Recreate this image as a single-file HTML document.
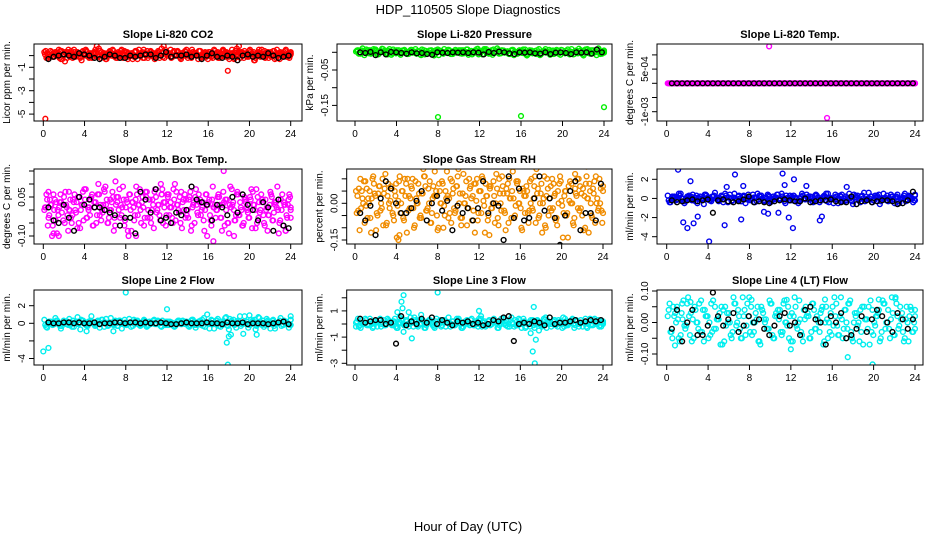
<!DOCTYPE html>
<html><head><meta charset="utf-8"><style>
html,body{margin:0;padding:0;background:#fff;}
svg{display:block;font-family:"Liberation Sans",sans-serif;}
</style></head><body>
<svg id="chart" width="936" height="540" viewBox="0 0 936 540" xmlns="http://www.w3.org/2000/svg">
<rect width="936" height="540" fill="#fff"/>
<text x="468" y="14" text-anchor="middle" font-size="13">HDP_110505  Slope Diagnostics</text>
<text x="468" y="531" text-anchor="middle" font-size="13">Hour of Day (UTC)</text>
</svg>
<script>
const xTicks = [0,4,8,12,16,20,24];

const co2Vals = [0.3,-0.2,0.1,0.4,-0.1,0.2,0.0,0.5,-0.3,0.1,0.3,-0.2,0.2,0.4,0.0,-0.1,0.3,0.1,-0.4,0.2,0.5,0.0,0.1,-0.2,0.3,0.2,-0.1,0.4,0.0,0.2,-0.3,0.1,0.3,0.5,-0.1,0.0,0.2,0.4,-0.2,0.1,0.3,-0.1,0.2,0.0,0.4,-0.3,0.1,0.2,0.5,0.0,-0.2,0.3,0.1,0.2,-0.1,0.4,0.0,0.3,-0.2,0.1,0.2,0.5,-0.1,0.0,0.3,0.1,-0.3,0.2,0.4,0.0,0.1,-0.2,0.3,0.2,0.0,0.4,-0.1,0.2,0.1,-0.3,0.3,0.0,0.5,0.1,-0.2,0.2,0.4,0.0,0.3,-0.1,0.1,0.2,-0.2,0.6,0.8,0.3,0.0,0.2,-0.1,0.4,0.1,0.3,-0.2,0.2,0.0,0.5,0.1,-0.1,0.3,0.2,0.0,0.4,-0.2,0.1,0.3,0.2,0.0,-0.1,0.2,0.1];
const co2OutT = [0.2,17.9,2.1];
const co2OutV = [-5.4,-1.3,-0.5];
const co2Black = [-0.3,-0.1,0.0,0.1,0.0,-0.1,0.2,0.1,0.0,-0.2,-0.3,-0.1,0.1,0.0,-0.2,-0.2,0.0,-0.1,0.0,0.1,0.1,-0.2,0.0,0.3,-0.1,0.0,0.0,0.1,-0.1,0.0,-0.3,0.0,0.2,-0.1,-0.2,0.0,-0.1,-0.4,0.0,0.1,-0.1,0.0,-0.1,0.2,0.0,-0.2,-0.1,0.0];

const presVals = [0.002,-0.004,0.005,-0.008,0.0,0.006,-0.002,0.008,-0.006,0.003,0.0,-0.005,0.009,-0.003,0.004,0.0,-0.007,0.005,0.002,-0.004,0.007,-0.001,0.003,-0.006,0.0,0.004,-0.003,0.006,-0.009,0.002,0.005,-0.002,0.0,0.007,-0.005,0.003,-0.001,0.006,-0.004,0.002,0.008,-0.003,0.0,0.005,-0.006,0.003,0.009,-0.002,0.004,-0.007,0.001,0.006,-0.003,0.005,0.0,-0.005,0.007,0.002,-0.004,0.003,0.008,-0.006,0.0,0.005,-0.002,0.006,-0.008,0.003,0.009,-0.001,0.004,-0.005,0.007,0.0,0.006,-0.003,0.008,0.002,-0.006,0.005,0.010,-0.002,0.004,0.009,-0.004,0.006,0.0,0.011,-0.003,0.005];
const presOutT = [8.0,16.0,24.0];
const presOutV = [-0.183,-0.180,-0.155];
const presBlack = [0.0,-0.002,0.001,-0.008,0.0,-0.006,0.001,0.0,-0.002,-0.004,0.0,-0.003,-0.002,-0.005,-0.007,0.0,-0.001,-0.002,0.0,-0.001,0.0,-0.002,0.0,-0.001,-0.006,0.001,-0.002,0.002,0.0,-0.003,-0.005,0.0,-0.001,0.0,-0.003,-0.004,0.0,-0.005,-0.001,0.0,-0.002,-0.005,0.0,-0.001,0.0,-0.004,0.008,0.0];

const tempVals = [0,0,0,0,0,0,0,0,0,0,0,0,0,0,0,0,0,0,0,0,0,0,0,0,0,0,0,0,0,0,0,0,0,0,0,0,0,0,0,0,0,0,0,0,0,0,0,0,0,0,0,0,0,0,0,0,0,0,0,0,0,0,0,0,0,0,0,0,0,0,0,0,0,0,0,0,0,0,0,0,0,0,0,0,0,0,0,0,0,0];
const tempOutT = [9.9,15.5];
const tempOutV = [0.0013,-0.00122];
const tempBlack = [0,0,0,0,0,0,0,0,0,0,0,0,0,0,0,0,0,0,0,0,0,0,0,0,0,0,0,0,0,0,0,0,0,0,0,0,0,0,0,0,0,0,0,0,0,0,0,0];

const boxVals = [0.0,0.06,-0.03,0.02,-0.06,0.04,-0.09,0.01,0.03,-0.04,0.07,-0.02,0.0,-0.05,0.03,-0.01,0.05,-0.07,0.02,0.08,-0.03,0.0,0.04,-0.06,0.01,-0.02,0.06,-0.04,0.02,0.09,-0.05,0.0,0.03,-0.08,0.02,0.05,-0.03,0.01,-0.06,0.04,-0.1,0.0,0.03,-0.02,0.06,0.02,-0.05,0.01,0.07,-0.03,0.04,0.0,-0.07,0.05,0.02,-0.04,0.08,0.01,-0.02,0.06,0.03,-0.05,0.1,0.02,-0.01,0.07,0.04,-0.03,0.0,0.05,-0.06,0.03,0.08,-0.02,0.04,0.01,-0.08,0.06,0.03,-0.04,0.09,0.02,0.0,0.05,-0.03,0.07,0.04,-0.05,0.02,0.08,0.0,-0.02,0.06,0.03,-0.06,0.05,0.01,-0.03,0.04,0.07,0.0,-0.05,0.03,0.06,-0.02,0.04,-0.08,0.02,0.05,-0.01,0.03,0.0,-0.04,0.06,0.02,-0.02,0.04,0.01];
const boxOutT = [0.5,1.0,1.5,17.5,16.5,18.5,7.0,11.5,2.5,9.0,23.5];
const boxOutV = [0.07,-0.09,-0.1,0.15,-0.12,-0.1,0.11,0.06,0.0,-0.1,-0.08];
const boxBlack = [0.01,-0.04,-0.05,0.02,-0.03,-0.08,0.05,0.02,0.04,0.01,0.01,0.0,-0.01,-0.02,-0.06,-0.03,-0.03,-0.09,0.07,0.04,-0.01,0.08,-0.04,-0.03,-0.05,-0.01,-0.02,0.0,0.09,0.04,0.03,0.02,-0.04,0.02,0.01,-0.02,0.05,-0.01,0.06,0.02,0.0,-0.04,0.03,0.01,-0.08,0.04,-0.06,-0.07];

const rhVals = [0.05,-0.03,0.1,0.02,-0.08,0.06,0.0,-0.12,0.11,0.03,-0.05,0.07,-0.02,0.04,-0.09,0.08,0.01,-0.04,0.05,-0.14,0.09,0.0,-0.06,0.03,0.1,-0.02,0.06,-0.1,0.02,0.08,-0.05,0.04,0.11,-0.03,0.0,-0.08,0.07,0.03,-0.11,0.05,0.09,-0.01,0.02,-0.06,0.1,0.04,-0.04,0.07,0.0,-0.09,0.12,0.03,-0.02,0.06,-0.07,0.08,0.01,-0.04,0.05,0.1,-0.12,0.03,0.07,-0.02,0.09,0.0,-0.06,0.04,0.11,-0.03,0.06,-0.08,0.02,0.13,-0.05,0.08,0.0,-0.1,0.05,0.03,-0.04,0.09,-0.02,0.07,0.14,-0.06,0.04,0.0,-0.09,0.1,0.02,-0.03,0.08,-0.07,0.05,0.11,-0.01,0.03,-0.05,0.07,0.0,-0.08,0.06,0.1,-0.03,0.04,-0.11,0.08,0.02,0.05,-0.06,0.09,0.0,-0.02,0.06,-0.04];
const rhOutT = [4.2,4.3,13.0,22.4,18.0,21.3];
const rhOutV = [-0.15,-0.13,-0.13,0.15,0.16,0.12];
const rhBlack = [-0.04,-0.07,-0.01,-0.13,0.02,0.09,0.06,0.0,-0.04,-0.04,-0.02,0.01,0.05,-0.07,0.0,0.03,-0.03,0.01,-0.11,-0.01,-0.04,-0.02,-0.07,-0.02,0.09,-0.04,0.0,-0.01,-0.15,0.11,-0.06,0.06,-0.07,-0.06,0.02,0.11,-0.03,0.02,-0.06,-0.17,-0.05,0.05,0.09,-0.11,-0.04,-0.04,-0.07,0.08];

const flowVals = [0.3,-0.4,0.1,-0.2,0.5,0.0,-0.5,0.2,-0.1,0.4,-0.3,0.1,0.0,-0.6,0.3,-0.2,0.2,0.6,-0.1,0.0,-0.4,0.3,0.1,-0.3,0.5,-0.2,0.0,0.2,-0.5,0.4,-0.1,0.1,-0.3,0.3,0.0,-0.2,0.4,-0.4,0.2,0.1,-0.1,0.5,-0.3,0.0,0.3,-0.2,0.1,-0.5,0.2,0.0,0.4,-0.1,-0.3,0.3,0.1,-0.2,0.2,0.5,-0.4,0.0,0.1,-0.1,0.3,-0.3,0.2,0.0,-0.2,0.4,0.1,-0.1,0.3,-0.3,0.0,0.2,-0.2,0.1,0.4,-0.1,0.0,0.3,-0.2,0.2,0.1,-0.3,0.0,0.3,-0.1,0.2,0.0,-0.2];
const flowOutT = [1.1,2.3,1.6,2.0,3.0,5.6,6.6,4.1,7.4,9.4,9.8,11.2,11.4,11.8,12.2,12.3,13.5,14.8,15.0,17.4,5.8,10.8,7.2,2.6];
const flowOutV = [3.0,1.8,-2.5,-3.1,-1.9,-2.8,2.5,-4.5,1.3,-1.4,-1.6,2.6,1.4,-2.0,-3.1,2.0,1.3,-2.3,-1.9,1.2,1.2,-1.5,-2.2,-2.6];
const flowBlack = [-0.2,-0.4,-0.3,-0.2,-0.1,-0.3,-0.2,-0.1,-1.5,-0.2,-0.1,-0.3,-0.4,-0.3,-0.1,0.2,-0.4,-0.3,-0.4,-0.5,-0.3,-0.2,-0.1,-0.2,-0.3,-0.3,0.0,-0.4,-0.3,-0.2,-0.2,-0.1,-0.3,-0.4,-0.4,0.2,-0.6,-0.3,-0.2,-0.4,-0.3,-0.2,-0.2,-0.3,-0.6,-0.5,-0.2,0.7];

const l2Vals = [0.4,-0.5,0.2,-0.2,0.6,0.0,-0.6,0.3,-0.1,0.5,-0.4,0.1,0.7,-0.7,0.3,-0.2,0.2,0.8,-0.1,0.0,-0.5,0.4,0.1,-0.3,0.6,-0.2,0.0,0.3,-0.6,0.4,-0.1,0.1,-0.3,0.3,0.0,-0.2,0.4,-0.4,0.2,0.1,-0.1,0.3,-0.3,0.0,0.2,-0.2,0.1,-0.4,0.2,0.0,0.3,-0.1,-0.3,0.3,0.1,-0.2,0.2,0.4,-0.4,0.0,0.1,-0.1,0.3,-0.3,0.2,0.0,-0.2,0.5,0.1,-0.1,0.3,-0.3,0.0,0.2,-0.2,0.1,0.4,-0.1,0.0,0.3,-0.2,0.2,0.1,-0.3,0.0,0.3,-0.1,0.2,0.0,-0.2];
const l2OutT = [0.0,0.5,8.0,12.0,17.8,18.0,18.2,17.9,19.4,20.7,20.0,15.9,24.0,4.2,6.8];
const l2OutV = [-3.2,-2.8,3.5,1.6,-2.2,-1.5,-1.3,-4.7,-1.2,-1.3,0.9,1.0,0.8,-0.9,-0.9];
const l2Black = [0.1,0.0,0.0,0.1,0.1,0.0,0.1,0.0,0.0,0.1,-0.1,0.0,0.0,0.1,0.1,0.0,0.1,0.1,0.0,0.1,0.0,0.0,0.1,0.0,-0.1,-0.1,0.0,0.1,0.0,0.0,0.0,0.1,0.0,0.0,-0.1,0.1,0.0,0.0,0.1,-0.1,0.0,0.0,0.0,-0.1,0.0,0.1,0.2,-0.1];

const l3Vals = [0.1,-0.2,0.3,0.0,-0.1,0.4,-0.3,0.2,0.1,-0.2,0.3,0.0,0.2,-0.1,0.4,-0.3,0.1,0.0,0.3,-0.2,0.2,0.5,-0.1,0.0,0.3,-0.3,0.2,0.1,-0.2,0.4,0.0,-0.1,0.3,0.1,-0.2,0.2,0.0,0.4,-0.3,0.1,0.3,-0.1,0.0,0.2,-0.2,0.4,0.1,-0.1,0.3,0.0,0.2,-0.3,0.1,0.4,-0.1,0.0,0.5,-0.2,0.2,0.3,0.0,-0.3,0.1,0.3,-0.1,0.2,0.0,-0.2,0.3,0.1,0.0,0.2,-0.1,0.3,0.0,-0.2,0.2,0.1,0.4,-0.1,0.0,0.3,0.1,-0.2,0.2,0.0,0.4,0.1,-0.1,0.2];
const l3OutT = [4.5,4.7,4.1,5.2,5.5,4.7,8.0,4.6,4.3,17.3,17.2,17.4,17.5,17.0,17.8,12.0,12.2,6.4,0.1];
const l3OutV = [1.7,2.2,0.9,0.9,-1.1,-0.6,2.4,1.2,0.5,1.3,-2.1,-3.0,-1.2,-0.7,-0.5,1.0,0.6,0.7,-0.2];
const l3Black = [0.4,0.1,0.2,0.3,0.3,0.0,0.1,-1.5,0.6,-0.1,0.2,0.0,0.4,0.1,0.5,0.0,0.3,0.1,-0.1,0.2,0.1,0.2,0.0,0.1,-0.1,0.0,0.3,0.2,0.5,0.6,-1.3,0.0,0.1,0.0,0.2,0.1,-0.1,0.5,0.0,0.1,0.1,0.2,0.3,0.1,0.2,0.3,0.2,0.3];

const l4Vals = [0.02,-0.03,0.05,0.0,-0.05,0.03,-0.01,0.06,-0.04,0.01,0.04,-0.02,0.07,-0.06,0.02,0.0,-0.03,0.05,0.01,-0.07,0.04,-0.01,0.03,-0.05,0.06,0.0,-0.02,0.08,-0.04,0.02,0.05,-0.03,0.01,-0.06,0.04,0.0,-0.02,0.06,-0.05,0.03,0.01,-0.04,0.07,-0.01,0.02,-0.06,0.05,0.0,-0.03,0.04,0.02,-0.05,0.06,-0.02,0.01,0.03,-0.07,0.05,0.0,-0.04,0.08,-0.01,0.02,-0.05,0.04,0.06,-0.03,0.0,0.03,-0.06,0.05,0.01,-0.02,0.07,-0.04,0.02,0.04,-0.03,0.06,0.0,-0.05,0.03,0.08,-0.02,0.01,-0.06,0.05,0.02,-0.03,0.04];
const l4OutT = [17.5,19.9,12.0,0.8,8.2,11.6,15.3,22.1,20.5,1.5,2.3];
const l4OutV = [-0.11,-0.133,-0.085,-0.073,0.072,0.072,0.073,0.075,0.073,0.06,0.065];
const l4Black = [-0.02,0.04,-0.06,0.0,0.04,-0.04,-0.04,-0.01,0.095,0.02,-0.01,0.01,0.03,-0.03,-0.01,0.02,0.0,0.01,-0.02,-0.04,-0.01,0.02,0.03,-0.01,0.0,-0.04,0.04,0.05,0.01,0.0,-0.07,0.02,0.0,0.03,-0.05,-0.04,-0.02,0.02,-0.03,0.01,0.04,0.02,0.0,-0.03,0.03,0.01,-0.02,0.01];

const panels = [
 {name:'co2',title:'Slope Li-820 CO2',ylab:'Licor ppm per min.',color:'#ff0000',box:[34,302,44,121],xp:[43.3,290.7],ya:[-1,67.3],yb:[-5,114.1],ticks:[0,-1,-2,-3,-4,-5],labels:['-1','-3','-5'],labelVals:[-1,-3,-5],vals:co2Vals,outT:co2OutT,outV:co2OutV,black:co2Black},
 {name:'pressure',title:'Slope Li-820 Pressure',ylab:'kPa per min.',color:'#00ee00',box:[337,612,44,121],xp:[355,604],ya:[0,52.3],yb:[-0.15,105.4],ticks:[0,-0.05,-0.10,-0.15],labels:['-0.05','-0.15'],labelVals:[-0.05,-0.15],vals:presVals,outT:presOutT,outV:presOutV,black:presBlack},
 {name:'temp',title:'Slope Li-820 Temp.',ylab:'degrees C per min.',color:'#ff00ff',box:[657,923,44,121],xp:[666.7,915],ya:[0,83.3],yb:[-0.001,111.7],ticks:[0.001,0.0005,0,-0.0005,-0.001],labels:['5e-04','-1e-03'],labelVals:[0.0005,-0.001],vals:tempVals,outT:tempOutT,outV:tempOutV,black:tempBlack},
 {name:'amb-box-temp',title:'Slope Amb. Box Temp.',ylab:'degrees C per min.',color:'#ff00ff',box:[34,302,169,244],xp:[43.3,290.7],ya:[0,210],yb:[-0.10,236],ticks:[0.15,0.10,0.05,0,-0.05,-0.10],labels:['0.05','-0.10'],labelVals:[0.05,-0.10],vals:boxVals,outT:boxOutT,outV:boxOutV,black:boxBlack},
 {name:'gas-stream-rh',title:'Slope Gas Stream RH',ylab:'percent per min.',color:'#f08c00',box:[346.7,612,169,244],xp:[355,603],ya:[0,203.3],yb:[-0.15,240],ticks:[0.10,0.05,0,-0.05,-0.10,-0.15],labels:['0.00','-0.15'],labelVals:[0,-0.15],vals:rhVals,outT:rhOutT,outV:rhOutV,black:rhBlack},
 {name:'sample-flow',title:'Slope Sample Flow',ylab:'ml/min per min.',color:'#0000ee',box:[657,923,169,244],xp:[666.7,915],ya:[2,179.3],yb:[-4,236.7],ticks:[2,0,-2,-4],labels:['2','0','-2','-4'],labelVals:[2,0,-2,-4],vals:flowVals,outT:flowOutT,outV:flowOutV,black:flowBlack},
 {name:'line2-flow',title:'Slope Line 2 Flow',ylab:'ml/min per min.',color:'#00eeee',box:[34,302,290,365],xp:[43.3,290.7],ya:[2,305.7],yb:[-4,358.5],ticks:[2,0,-2,-4],labels:['2','0','-4'],labelVals:[2,0,-4],vals:l2Vals,outT:l2OutT,outV:l2OutV,black:l2Black},
 {name:'line3-flow',title:'Slope Line 3 Flow',ylab:'ml/min per min.',color:'#00eeee',box:[346.7,612,290,365],xp:[355,603],ya:[0,324],yb:[-3,363.3],ticks:[2,1,0,-1,-2,-3],labels:['1','-1','-3'],labelVals:[1,-1,-3],vals:l3Vals,outT:l3OutT,outV:l3OutV,black:l3Black},
 {name:'line4-flow',title:'Slope Line 4 (LT) Flow',ylab:'ml/min per min.',color:'#00eeee',box:[657,923,290,365],xp:[666.7,915],ya:[0.10,291],yb:[-0.10,354],ticks:[0.10,0.05,0,-0.05,-0.10],labels:['0.10','0.00','-0.10'],labelVals:[0.10,0,-0.10],vals:l4Vals,outT:l4OutT,outV:l4OutV,black:l4Black}
];

const NS='http://www.w3.org/2000/svg';
const svg=document.getElementById('chart');
function mk(tag,attrs,parent){const e=document.createElementNS(NS,tag);for(const k in attrs)e.setAttribute(k,attrs[k]);(parent||svg).appendChild(e);return e;}

panels.forEach(p=>{
  const g=mk('g',{});
  
  
  const [x0,x1,y0,y1]=p.box;
  const xs=t=>p.xp[0]+(p.xp[1]-p.xp[0])*t/24;
  const ys=v=>p.ya[1]+(v-p.ya[0])*(p.yb[1]-p.ya[1])/(p.yb[0]-p.ya[0]);
  const clip='clip-'+p.name;
  const cp=mk('clipPath',{id:clip},g);
  mk('rect',{x:x0,y:y0,width:x1-x0,height:y1-y0},cp);
  const pts=mk('g',{'clip-path':'url(#'+clip+')',fill:'none','stroke-width':1.4},g);
  
  
  const n=p.vals.length;
  // three interleaved passes over the observed values to reproduce the cloud density
  for(let k=0;k<3;k++){
    for(let i=0;i<n;i++){
      const j = k===0 ? i : (k===1 ? n-1-i : (i+37)%n);
      const t = Math.min(24, 0.1+23.9*(i+k/3)/(n-1));
      const c=mk('circle',{cx:xs(t),cy:ys(p.vals[j]),r:2.4,stroke:p.color},pts);
      
      
    }
  }
  p.outT.forEach((t,i)=>{
    const c=mk('circle',{cx:xs(t),cy:ys(p.outV[i]),r:2.4,stroke:p.color},pts);
    
    
  });
  const m=p.black.length;
  p.black.forEach((v,i)=>{
    const c=mk('circle',{cx:xs(0.5+23.3*i/(m-1)),cy:ys(v),r:2.4,stroke:'#000'},pts);
    
    
  });
  const frame=mk('rect',{x:x0,y:y0,width:x1-x0,height:y1-y0,fill:'none',stroke:'#000','stroke-width':1},g);
  
  
  const title=mk('text',{x:(x0+x1)/2,y:y0-6,'text-anchor':'middle','font-size':11,'font-weight':'bold'},g);
  title.textContent=p.title;
  
  
  xTicks.forEach(t=>{
    mk('line',{x1:xs(t),x2:xs(t),y1:y1,y2:y1+5,stroke:'#000'},g);
    const tx=mk('text',{x:xs(t),y:y1+16,'text-anchor':'middle','font-size':10},g);
    tx.textContent=t;
    
    
  });
  p.ticks.forEach(v=>{mk('line',{x1:x0-5,x2:x0,y1:ys(v),y2:ys(v),stroke:'#000'},g);});
  p.labels.forEach((l,i)=>{
    const yy=ys(p.labelVals[i]);
    const tx=mk('text',{x:x0-9,y:yy,'text-anchor':'middle','font-size':10,transform:'rotate(-90 '+(x0-9)+' '+yy+')'},g);
    tx.textContent=l;
    
    
  });
  const yl=x0-24, yc=(y0+y1)/2;
  const lab=mk('text',{x:yl,y:yc,'text-anchor':'middle','font-size':10,transform:'rotate(-90 '+yl+' '+yc+')'},g);
  lab.textContent=p.ylab;
  
  
});
</script>
</body></html>
